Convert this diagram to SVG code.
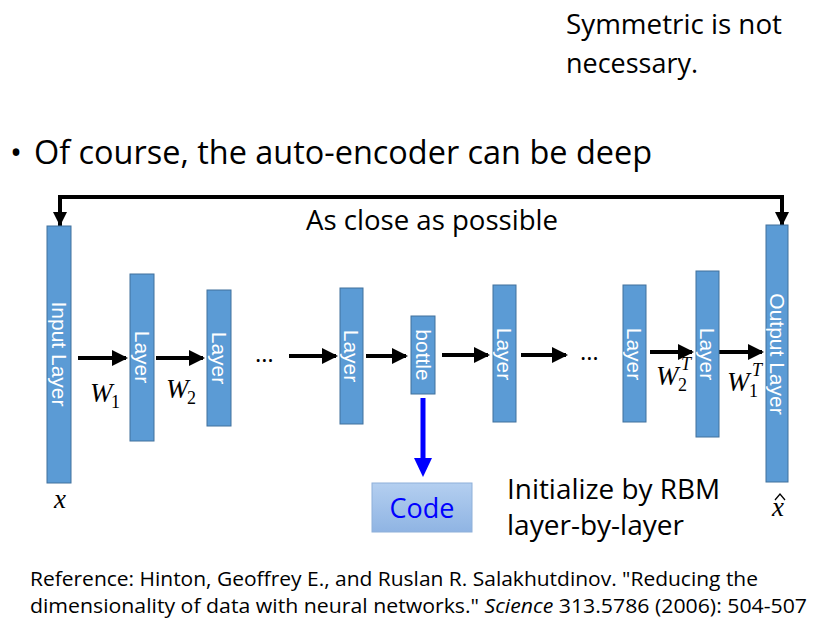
<svg xmlns="http://www.w3.org/2000/svg" width="834" height="628" viewBox="0 0 834 628">
<style>
.l{fill:#5b9bd5;stroke:#41719c;stroke-width:1}
.lt{font-family:"Liberation Sans",Arial,sans-serif;font-size:21px;fill:#fff}
.t{font-family:"Open Sans","DejaVu Sans",sans-serif;fill:#000}
.m{font-family:"Liberation Serif",serif;font-style:italic;font-size:27px}
.s{font-family:"Liberation Serif",serif;font-size:18px}
.a{stroke:#000;stroke-width:4;fill:none;marker-end:url(#ah)}
</style>
<defs>
<marker id="ah" markerWidth="4" markerHeight="4" refX="3.5" refY="2" orient="auto" markerUnits="strokeWidth"><path d="M0,0L4,2L0,4z" fill="#000"/></marker>
<linearGradient id="g" x1="0" y1="0" x2="0" y2="1"><stop offset="0" stop-color="#b4cff0"/><stop offset="1" stop-color="#8fb4e3"/></linearGradient>
</defs>
<rect width="834" height="628" fill="#fff"/>
<text class="t" x="566" y="34" font-size="27" textLength="216" lengthAdjust="spacingAndGlyphs">Symmetric is not</text>
<text class="t" x="566" y="73" font-size="27" textLength="132" lengthAdjust="spacingAndGlyphs">necessary.</text>
<text class="t" x="10" y="164" font-size="32">•</text>
<text class="t" x="34" y="164" font-size="32" textLength="618" lengthAdjust="spacingAndGlyphs">Of course, the auto-encoder can be deep</text>
<text class="t" x="306" y="230" font-size="28" textLength="252" lengthAdjust="spacingAndGlyphs">As close as possible</text>
<g id="connectors">
<path d="M60,226V197H782V226" stroke="#000" stroke-width="4" fill="none"/>
<path d="M53,212L60,226L67,212z"/><path d="M775,212L782,226L789,212z"/>
<path class="a" d="M78,358H126"/><path class="a" d="M156,358H203"/>
<path class="a" d="M289,356H336"/><path class="a" d="M366,356H406"/>
<path class="a" d="M442,355H488"/><path class="a" d="M521,355H566"/>
<path class="a" d="M650,352H692"/><path class="a" d="M718,352H762"/>
<path d="M423,398V460" stroke="#0000ff" stroke-width="5" fill="none"/>
<path d="M414,458L423,477L432,458z" fill="#0000ff"/>
</g>
<text class="t" x="255" y="362" font-size="24">…</text>
<text class="t" x="580" y="360" font-size="24">…</text>
<g id="input"><rect class="l" x="47" y="226" width="24" height="257"/><text class="lt" transform="translate(52,354) rotate(90)" text-anchor="middle">Input Layer</text></g>
<g id="layer1"><rect class="l" x="130" y="274" width="24" height="167"/><text class="lt" transform="translate(135,357) rotate(90)" text-anchor="middle">Layer</text></g>
<g id="layer2"><rect class="l" x="207" y="290" width="24" height="136"/><text class="lt" transform="translate(212,358) rotate(90)" text-anchor="middle">Layer</text></g>
<g id="layer3"><rect class="l" x="340" y="288" width="23" height="136"/><text class="lt" transform="translate(344,356) rotate(90)" text-anchor="middle">Layer</text></g>
<g id="bottle"><rect class="l" x="411" y="316" width="24" height="78"/><text class="lt" transform="translate(416,355) rotate(90)" text-anchor="middle">bottle</text></g>
<g id="layer4"><rect class="l" x="493" y="285" width="23" height="137"/><text class="lt" transform="translate(497,354) rotate(90)" text-anchor="middle">Layer</text></g>
<g id="layer5"><rect class="l" x="623" y="285" width="23" height="137"/><text class="lt" transform="translate(627,354) rotate(90)" text-anchor="middle">Layer</text></g>
<g id="layer6"><rect class="l" x="696" y="271" width="23" height="166"/><text class="lt" transform="translate(700,354) rotate(90)" text-anchor="middle">Layer</text></g>
<g id="output"><rect class="l" x="766" y="225" width="22" height="257"/><text class="lt" transform="translate(770,354) rotate(90)" text-anchor="middle">Output Layer</text></g>
<g id="code"><rect x="372" y="483" width="100" height="49" fill="url(#g)" stroke="#8eb0d9"/><text x="422" y="518" text-anchor="middle" font-family="'Open Sans','DejaVu Sans',sans-serif" font-size="27" fill="#0000ff">Code</text></g>
<text class="m" x="90" y="402">W</text><text class="s" x="111" y="408">1</text>
<text class="m" x="166" y="398">W</text><text class="s" x="187" y="404">2</text>
<text class="m" x="656" y="385">W</text><text class="s" x="678" y="391">2</text><text class="s" x="681" y="370" font-style="italic">T</text>
<text class="m" x="727" y="391">W</text><text class="s" x="749" y="397">1</text><text class="s" x="752" y="376" font-style="italic">T</text>
<text class="m" x="54" y="508">x</text>
<text class="m" x="772" y="516">x</text>
<path d="M775,500L780,494L785,500" stroke="#000" stroke-width="1.3" fill="none"/>
<text class="t" x="507" y="499" font-size="28" textLength="213" lengthAdjust="spacingAndGlyphs">Initialize by RBM</text>
<text class="t" x="507" y="535" font-size="28" textLength="177" lengthAdjust="spacingAndGlyphs">layer-by-layer</text>
<text class="t" x="30" y="586" font-size="20" textLength="728" lengthAdjust="spacingAndGlyphs">Reference: Hinton, Geoffrey E., and Ruslan R. Salakhutdinov. "Reducing the</text>
<text class="t" x="30" y="613" font-size="20" textLength="777" lengthAdjust="spacingAndGlyphs">dimensionality of data with neural networks." <tspan font-style="italic">Science</tspan> 313.5786 (2006): 504-507</text>
</svg>
